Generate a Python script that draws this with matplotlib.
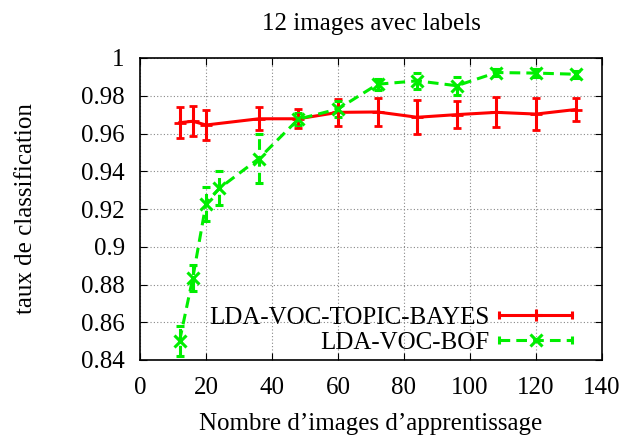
import matplotlib
matplotlib.use("Agg")
import matplotlib.pyplot as plt
from matplotlib.lines import Line2D
from matplotlib.legend_handler import HandlerBase

title = "12 images avec labels"
xlabel = "Nombre d’images d’apprentissage"
ylabel = "taux de classification"

label_red = "LDA-VOC-TOPIC-BAYES"
x_red = [12, 16, 20, 36, 48, 60, 72, 84, 96, 108, 120, 132]
y_red = [0.9657, 0.9665, 0.9645, 0.9678, 0.9678, 0.9712, 0.9714, 0.9686, 0.9700, 0.9712, 0.9703, 0.9727]
e_red = [0.0083, 0.0080, 0.0082, 0.0062, 0.0050, 0.0070, 0.0076, 0.0090, 0.0072, 0.0080, 0.0083, 0.0062]

label_green = "LDA-VOC-BOF"
x_green = [12, 16, 20, 24, 36, 48, 60, 72, 84, 96, 108, 120, 132]
y_green = [0.8502, 0.8835, 0.9228, 0.9309, 0.9467, 0.9676, 0.9730, 0.9861, 0.9879, 0.9853, 0.9923, 0.9920, 0.9914]
e_green = [0.0080, 0.0068, 0.0090, 0.0090, 0.0130, 0.0030, 0.0042, 0.0030, 0.0041, 0.0048, 0.0020, 0.0022, 0.0018]

xticks = [0, 20, 40, 60, 80, 100, 120, 140]
yticks = [0.84, 0.86, 0.88, 0.90, 0.92, 0.94, 0.96, 0.98, 1.0]
ytick_labels = ["0.84", "0.86", "0.88", "0.9", "0.92", "0.94", "0.96", "0.98", "1"]

plt.rcParams['font.family'] = ['Liberation Serif', 'DejaVu Serif']
FS = 18

fig = plt.figure(figsize=(6.26, 4.37), dpi=100)
L, R, T, B = 140 / 626, 602 / 626, 1 - 58 / 437, 1 - 360 / 437
ax = fig.add_axes([L, B, R - L, T - B])

red = "#ff0000"
green = "#00ee00"
dash = (0, (3.5, 2))
LW = 2.2

ax.errorbar(x_red, y_red, yerr=e_red, color=red, lw=LW, marker='+', ms=8, mew=2,
            capsize=3, capthick=LW, elinewidth=LW, zorder=3, clip_on=True)
eb = ax.errorbar(x_green, y_green, yerr=e_green, color=green, lw=LW, ls=dash, marker='x', ms=9, mew=2.2,
                 capsize=3, capthick=LW, elinewidth=LW, zorder=3)
for lc in eb[2]:
    lc.set_linestyle(dash)


class HandlerGnuplot(HandlerBase):
    def __init__(self, color, ls, marker, ms):
        super().__init__()
        self.color, self.ls, self.marker, self.ms = color, ls, marker, ms

    def create_artists(self, legend, orig_handle, xdescent, ydescent, width, height, fontsize, trans):
        y = height / 2 - ydescent
        x0, x1 = -xdescent, -xdescent + width
        line = Line2D([x0, x1], [y, y], color=self.color, lw=LW, ls=self.ls)
        cap = Line2D([x0, x1], [y, y], color=self.color, lw=0, marker='|', ms=6, mew=LW)
        mk = Line2D([(x0 + x1) / 2], [y], color=self.color, lw=0, marker=self.marker, ms=self.ms, mew=2.2)
        arts = [line, cap, mk]
        for a in arts:
            a.set_transform(trans)
        return arts


h_red = Line2D([], [], color=red)
h_green = Line2D([], [], color=green)

ax.set_xlim(0, 140)
ax.set_ylim(0.84, 1.0)
ax.set_xticks(xticks)
ax.set_yticks(yticks)
ax.set_yticklabels(ytick_labels)
ax.grid(True, color='#888888', ls=(0, (1, 2)), lw=0.8)
ax.tick_params(direction='in', top=True, right=True, labelsize=FS, length=5)
ax.tick_params(axis='x', pad=12)
ax.tick_params(axis='y', pad=11)
for s in ax.spines.values():
    s.set_linewidth(1.2)

ax.set_title(title, fontsize=FS, pad=20.5)
ax.set_xlabel(xlabel, fontsize=FS, labelpad=10)
ax.set_ylabel(ylabel, fontsize=FS, labelpad=32)

leg = ax.legend([h_red, h_green], [label_red, label_green],
                handler_map={h_red: HandlerGnuplot(red, '-', '+', 8),
                             h_green: HandlerGnuplot(green, dash, 'x', 9)},
                loc='lower right', bbox_to_anchor=(0.935, 0.02), frameon=False, markerfirst=False,
                fontsize=FS, handlelength=2.9, borderpad=0, borderaxespad=0,
                labelspacing=0.1, handletextpad=0.4)
for t in leg.get_texts():
    t.set_ha('right')

fig.savefig("out.png", dpi=100)
